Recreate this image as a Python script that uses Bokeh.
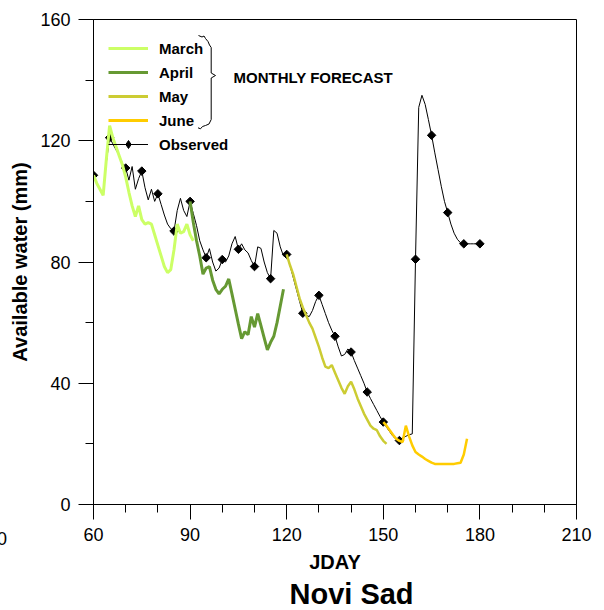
import numpy as np
from bokeh.plotting import figure
from bokeh.models import Range1d, FixedTicker, Legend, LegendItem, Label
from bokeh.embed import file_html
from bokeh.resources import INLINE

# ---------------- data ----------------
obs_day = list(range(60, 181))
obs_mm = [108.6, 106, 104, 102.5, 113, 121, 119, 117, 115, 112.5,
          111, 107, 111.5, 104, 107.5, 110, 104.5, 100.5, 104, 100,
          102.5, 99, 95.5, 92.5, 91, 90.2, 97, 101, 97, 95,
          100, 96, 92, 87, 84, 81.4, 84.4, 80, 77, 78,
          80.8, 80, 82, 86, 88.4, 84.2, 86, 84, 83, 80.5,
          78.5, 85, 84.5, 80, 76.5, 74.5, 90.4, 89.5, 85, 82,
          82.5, 79, 75, 71, 67, 63.1, 62.4, 62, 64, 67,
          69, 66, 63, 60, 57.5, 55.5, 52, 49, 49.5, 51.3,
          50.3, 47.5, 45, 42.5, 40, 37.1, 35, 33, 31, 29,
          27.2, 25.5, 24, 22.5, 21.5, 21.1, 22, 22.5, 23, 23.3,
          80.9, 131, 135, 132, 127, 121.8, 116, 110.5, 105, 100,
          96.3, 92.5, 89.5, 87.5, 86.3, 86, 86, 86, 86, 86,
          86]

march_day = list(range(60, 92))
march_mm = [108.6, 106, 104, 102, 114, 125, 121, 118, 115, 112,
            108, 103, 98.5, 95, 98.5, 94, 92.5, 93, 92.5, 89,
            85.5, 82, 78.5, 76.5, 77.5, 84, 92.5, 89.5, 90, 92.5,
            89, 87]

april_day = list(range(90, 120))
april_mm = [100, 93, 87, 82, 76, 78, 78.5, 74, 71, 69.5,
            71, 72, 74.4, 69.5, 64.5, 59.5, 54.7, 57, 56, 62,
            58.5, 63, 59, 55, 51, 53.5, 55.5, 60, 65.5, 71]

may_day = list(range(120, 152))
may_mm = [82.5, 79, 76, 72, 68, 65, 62.5, 60, 58, 55,
          52, 48.5, 45.5, 45, 46, 43.5, 41, 38.5, 36.5, 39,
          40.5, 38, 35, 32.5, 30, 28, 26, 25, 24.5, 22.5,
          21, 20]

june_day = list(range(150, 177))
june_mm = [27.2, 26, 24.5, 23, 21.7, 21, 20.6, 26, 22.5, 19.5,
           17.3, 16.5, 15.8, 15, 14.4, 13.8, 13.4, 13.4, 13.4, 13.4,
           13.4, 13.4, 13.4, 13.6, 13.8, 16.5, 21.7]

series_names = ["March", "April", "May", "June", "Observed"]
x_ticks = [60, 90, 120, 150, 180, 210]
y_ticks = [0, 40, 80, 120, 160]

# ---------------- style ----------------
FONT = "Liberation Sans"
C_MARCH = "#ccff66"
C_APRIL = "#669933"
C_MAY = "#cccc33"
C_JUNE = "#ffcc00"

W, H = 604, 610
ML, MR, MT, MB = 93, 28, 19, 106

p = figure(width=W, height=H, x_range=Range1d(60, 210), y_range=Range1d(0, 160),
           output_backend="svg", toolbar_location=None,
           min_border_left=ML, min_border_right=MR, min_border_top=MT, min_border_bottom=MB)
p.grid.visible = False
p.outline_line_color = "black"
p.outline_line_width = 1
p.background_fill_color = "white"
p.border_fill_color = "white"

for ax in (p.xaxis[0], p.yaxis[0]):
    ax.axis_line_color = "black"
    ax.major_tick_line_color = "black"
    ax.minor_tick_line_color = "black"
    ax.major_tick_in = 0
    ax.major_tick_out = 15
    ax.minor_tick_in = 0
    ax.minor_tick_out = 8
    ax.major_label_text_font = FONT
    ax.major_label_text_font_size = "18px"
    ax.major_label_text_color = "black"
    ax.major_label_standoff = 8
    ax.axis_label_text_font = FONT
    ax.axis_label_text_font_size = "20px"
    ax.axis_label_text_font_style = "bold"
    ax.axis_label_text_color = "black"

p.xaxis.ticker = FixedTicker(ticks=x_ticks, minor_ticks=list(range(60, 211, 10)))
p.yaxis.ticker = FixedTicker(ticks=y_ticks, minor_ticks=list(range(0, 161, 20)))
p.xaxis.axis_label = "JDAY"
p.xaxis.axis_label_standoff = 7
p.yaxis.axis_label = "Available water (mm)"
p.yaxis.axis_label_standoff = 6

# title below the axis
p.title.text = "Novi Sad"
p.title_location = "below"
p.title.text_font = FONT
p.title.text_font_size = "29px"
p.title.text_font_style = "bold"
p.title.text_color = "black"
p.title.align = "left"
p.title.offset = 196
p.title.standoff = 0

# observed
obs_mk_day = [d for d in obs_day if d % 5 == 0]
obs_mk_mm = [v for d, v in zip(obs_day, obs_mm) if d % 5 == 0]
p.line(obs_day, obs_mm, line_color="black", line_width=1)
p.scatter(obs_mk_day, obs_mk_mm, marker="square", angle=np.pi / 4, size=6,
          fill_color="black", line_color="black")

# forecasts
p.line(march_day, march_mm, line_color=C_MARCH, line_width=3)
p.line(april_day, april_mm, line_color=C_APRIL, line_width=3)
p.line(may_day, may_mm, line_color=C_MAY, line_width=2.5)
p.line(june_day, june_mm, line_color=C_JUNE, line_width=2.5)

# legend glyph renderers (NaN data: nothing is drawn in the plot area)
nan = [float("nan")]
lm = p.line(nan, nan, line_color=C_MARCH, line_width=3)
la = p.line(nan, nan, line_color=C_APRIL, line_width=3)
ly = p.line(nan, nan, line_color=C_MAY, line_width=3)
lj = p.line(nan, nan, line_color=C_JUNE, line_width=3)
lo = p.line(nan, nan, line_color="black", line_width=1)
lo2 = p.scatter(nan, nan, marker="diamond", size=19,
                fill_color="black", line_color="black")
legend = Legend(items=[LegendItem(label=series_names[0], renderers=[lm]),
                       LegendItem(label=series_names[1], renderers=[la]),
                       LegendItem(label=series_names[2], renderers=[ly]),
                       LegendItem(label=series_names[3], renderers=[lj]),
                       LegendItem(label=series_names[4], renderers=[lo, lo2])],
                location=(15, 350), padding=0, margin=0, spacing=4,
                glyph_width=40, glyph_height=20, label_height=20, label_standoff=11,
                label_text_font=FONT, label_text_font_style="bold",
                label_text_font_size="15px", label_text_color="black",
                background_fill_alpha=0, border_line_alpha=0)
p.add_layout(legend)

# brace next to the forecast entries (decoration, pixel layout -> data units)
FX = (W - ML - MR) / 150.0
FY = (H - MT - MB) / 160.0
brace_px = [(198, 35), (201.5, 36.5), (203.5, 35.5), (205, 38), (207.5, 41), (209, 44.5),
            (210.7, 47), (210.7, 72.5), (215, 75), (210.7, 77.5), (210.7, 119),
            (208.5, 123.5), (205, 125), (202, 126), (200, 128.3), (197.5, 127.3)]
bx = [60 + (px - ML) / FX for px, _ in brace_px]
by = [(H - MB - py) / FY for _, py in brace_px]
p.line(bx, by, line_color="black", line_width=1)

p.add_layout(Label(x=140, y=H - MB - 77, x_units="screen", y_units="screen",
                   text="MONTHLY FORECAST", text_font=FONT, text_font_style="bold",
                   text_font_size="15px", text_baseline="middle", text_align="left",
                   text_color="black"))
# partly visible tick label at the far left, outside the frame
# (placed in the right side panel so that it is not clipped and does not change the layout)
p.add_layout(Label(x=30, y=-34, x_units="data", y_units="screen",
                   text="30", text_font=FONT, text_font_size="18px",
                   text_baseline="middle", text_align="center", text_color="black"),
             "right")

open("out.html", "w").write(file_html(p, INLINE))
